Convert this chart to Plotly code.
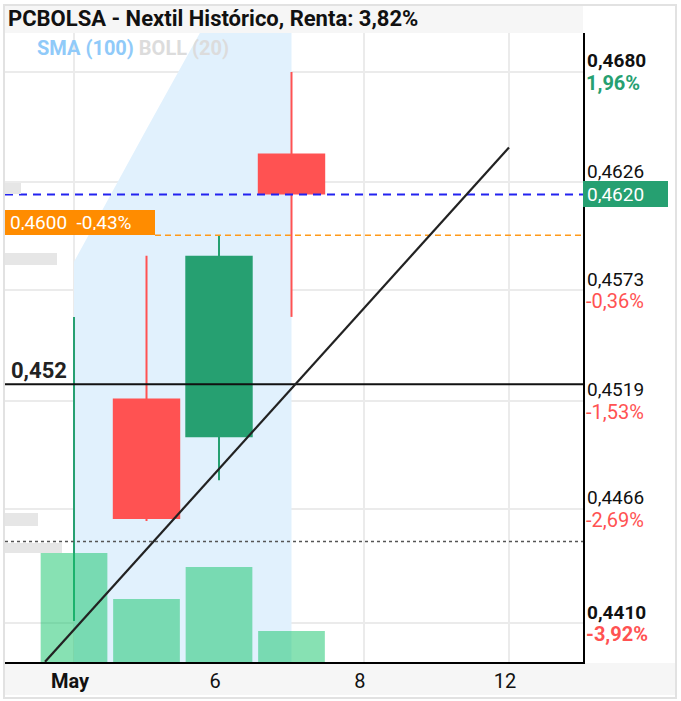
import plotly.graph_objects as go

# ---------------- data ----------------
day_idx = [0, 1, 2, 3]                      # trading-day index (May 4..7)
opens = [0.4500, 0.4520, 0.4501, 0.4640]
highs = [0.4560, 0.4590, 0.4600, 0.4680]
lows = [0.4411, 0.4460, 0.4480, 0.4560]
closes = [0.4500, 0.4461, 0.4590, 0.4620]
volumes = [1090, 630, 950, 310]
band_upper = [0.4587, 0.4652, 0.4716, 0.4781]

x_tick_vals = [0, 2, 4, 6]
x_tick_text = ["<b>May</b>", "6", "8", "12"]

y_tick_vals = [0.4680, 0.4626, 0.4573, 0.4519, 0.4466, 0.4410]
y_tick_price = ["0,4680", "0,4626", "0,4573", "0,4519", "0,4466", "0,4410"]
y_tick_pct = ["1,96%", "", "-0,36%", "-1,53%", "-2,69%", "-3,92%"]
y_tick_bold = [True, False, False, False, False, True]

current_price = 0.4620
current_text = "0,4620"
order_price = 0.4600
order_text = "0,4600&nbsp;&nbsp;-0,43%"
level_price = 0.4527
level_text = "0,452"
dotted_price = 0.4450
trend_x = [-0.4, 6.0]
trend_y = [0.4391, 0.4643]
ghost_labels = [(0.0, 0.0277, 0.46256, 0.46202), (0.0, 0.0900, 0.45913, 0.45854),
                (0.0, 0.0571, 0.44639, 0.44575), (0.0, 0.0986, 0.44492, 0.44443)]

title_text = "PCBOLSA - Nextil Histórico, Renta: 3,82%"

GREEN = "#26a071"
RED = "#ff5252"
FONT = "Roboto"
HALF_W = 0.465

fig = go.Figure()

# SMA / BOLL shaded area
fig.add_trace(go.Scatter(x=day_idx, y=band_upper, mode="lines", fill="tozeroy",
                         line=dict(width=0), fillcolor="#e1f1fd", hoverinfo="skip",
                         showlegend=False))

# wicks
for want_up, col in [(True, GREEN), (False, RED)]:
    wx, wy = [], []
    for i, o, h, l, c in zip(day_idx, opens, highs, lows, closes):
        if (c >= o) == want_up:
            wx += [i, i, None]
            wy += [l, h, None]
    fig.add_trace(go.Scatter(x=wx, y=wy, mode="lines", line=dict(color=col, width=2),
                             hoverinfo="skip", showlegend=False))

# bodies (filled polygons so they sit above the shaded area and the wicks)
for want_up, col in [(True, GREEN), (False, RED)]:
    bx, by = [], []
    for i, o, c in zip(day_idx, opens, closes):
        if (c >= o) == want_up and c != o:
            bx += [i - HALF_W, i + HALF_W, i + HALF_W, i - HALF_W, i - HALF_W, None]
            by += [o, o, c, c, o, None]
    fig.add_trace(go.Scatter(x=bx, y=by, mode="lines", fill="toself", fillcolor=col,
                             line=dict(width=0, color=col), hoverinfo="skip", showlegend=False))

# volume
fig.add_trace(go.Bar(x=day_idx, y=volumes, yaxis="y2", width=0.92,
                     marker=dict(color="rgba(16,196,104,0.5)", line=dict(width=0)),
                     showlegend=False))

shapes = []
# outer frame and bands
shapes.append(dict(type="rect", xref="paper", yref="paper", x0=0, x1=1, y0=1.0, y1=1.0429,
                   fillcolor="#f6f6f6", line=dict(width=0), layer="below"))
shapes.append(dict(type="rect", xref="paper", yref="paper", x0=0, x1=1.1592, y0=-0.0525, y1=-0.0016,
                   fillcolor="#f6f6f6", line=dict(width=0), layer="below"))
shapes.append(dict(type="rect", xref="paper", yref="paper", x0=-0.0017, x1=1.1609, y0=-0.0572, y1=1.0445,
                   fillcolor="rgba(0,0,0,0)", line=dict(color="#e2e2e2", width=2), layer="below"))
# horizontal levels
shapes.append(dict(type="line", xref="paper", yref="y", x0=0, x1=1, y0=current_price, y1=current_price,
                   line=dict(color="#2323f0", width=2, dash="8px,6px")))
shapes.append(dict(type="line", xref="paper", yref="y", x0=0.2595, x1=1, y0=order_price, y1=order_price,
                   line=dict(color="#ff9a1a", width=1.5, dash="6px,4px")))
shapes.append(dict(type="line", xref="paper", yref="y", x0=0, x1=1, y0=level_price, y1=level_price,
                   line=dict(color="#111111", width=2)))
shapes.append(dict(type="line", xref="paper", yref="y", x0=0, x1=1, y0=dotted_price, y1=dotted_price,
                   line=dict(color="#555555", width=1.5, dash="3px,3px")))
for x0, x1, y1, y0 in ghost_labels:
    shapes.append(dict(type="rect", xref="paper", yref="y", x0=x0, x1=x1, y0=y0, y1=y1,
                       fillcolor="#e6e6e6", line=dict(width=0)))
# trend line
shapes.append(dict(type="line", xref="x", yref="y", x0=trend_x[0], x1=trend_x[1],
                   y0=trend_y[0], y1=trend_y[1], line=dict(color="#222222", width=2.2)))

annotations = []
annotations.append(dict(xref="paper", yref="paper", x=0.0052, y=1.0238, xanchor="left", yanchor="middle",
                        text="<b>" + title_text + "</b>", showarrow=False, borderwidth=0, borderpad=0,
                        font=dict(family=FONT, size=22, color="#111111")))
annotations.append(dict(xref="paper", yref="paper", x=0.0554, y=0.9762, xanchor="left", yanchor="middle",
                        text="<b><span style='color:#90caf9'>SMA (100)</span>&nbsp;<span style='color:#dcdcdc'>BOLL (20)</span></b>",
                        showarrow=False, borderwidth=0, borderpad=0,
                        font=dict(family=FONT, size=20)))
# right axis labels
for v, p, pc, b in zip(y_tick_vals, y_tick_price, y_tick_pct, y_tick_bold):
    t = "<b>%s</b>" % p if b else p
    annotations.append(dict(xref="paper", yref="y", x=1, y=v, xanchor="left", yanchor="middle",
                            xshift=4, yshift=11, text=t, showarrow=False, borderwidth=0, borderpad=0,
                            font=dict(family=FONT, size=19, color="#111111")))
    if pc:
        col = GREEN if not pc.startswith("-") else RED
        t2 = "<b>%s</b>" % pc if b else pc
        annotations.append(dict(xref="paper", yref="y", x=1, y=v, xanchor="left", yanchor="middle",
                                xshift=3, yshift=-11, text=t2, showarrow=False, borderwidth=0, borderpad=0,
                                font=dict(family=FONT, size=20, color=col)))
# current price tag
annotations.append(dict(xref="paper", yref="y", x=1, y=current_price, xanchor="left", yanchor="middle",
                        text=current_text, showarrow=False, bgcolor=GREEN, borderwidth=0, borderpad=4,
                        width=77, height=18, align="left",
                        font=dict(family=FONT, size=19, color="white")))
# order tag
annotations.append(dict(xref="paper", yref="y", x=0, y=order_price, xanchor="left", yanchor="bottom",
                        text=order_text, showarrow=False, bgcolor="#ff8c00", borderwidth=0, borderpad=5,
                        width=140, height=15, align="left",
                        font=dict(family=FONT, size=19, color="white")))
# level label
annotations.append(dict(xref="paper", yref="y", x=0.0087, y=level_price, xanchor="left", yanchor="bottom",
                        text="<b>" + level_text + "</b>", showarrow=False, borderwidth=0, borderpad=1,
                        font=dict(family=FONT, size=22, color="#222222")))

fig.update_layout(
    width=681, height=701,
    margin=dict(l=5, r=98, t=33, b=39),
    paper_bgcolor="white", plot_bgcolor="rgba(0,0,0,0)",
    barmode="overlay", showlegend=False,
    font=dict(family=FONT, size=18, color="#111111"),
    xaxis=dict(range=[-0.952, 7.021], tickvals=x_tick_vals, ticktext=x_tick_text,
               showgrid=True, gridcolor="#ebebeb", gridwidth=2, zeroline=False,
               showline=True, linecolor="black", linewidth=2, ticks="",
               tickfont=dict(family=FONT, size=20, color="#111111"), ticklabelstandoff=0,
               ticklabelshift=-4),
    yaxis=dict(range=[0.43909, 0.46991], side="right", tickvals=y_tick_vals,
               showticklabels=False, showgrid=True, gridcolor="#ebebeb", gridwidth=2,
               zeroline=False, showline=True, linecolor="black", linewidth=2, ticks=""),
    yaxis2=dict(range=[0, 6290], overlaying="y", visible=False),
    shapes=shapes, annotations=annotations,
)

fig.write_html("out.html", config={"displayModeBar": False},
               post_script="document.body.style.margin='0';")
